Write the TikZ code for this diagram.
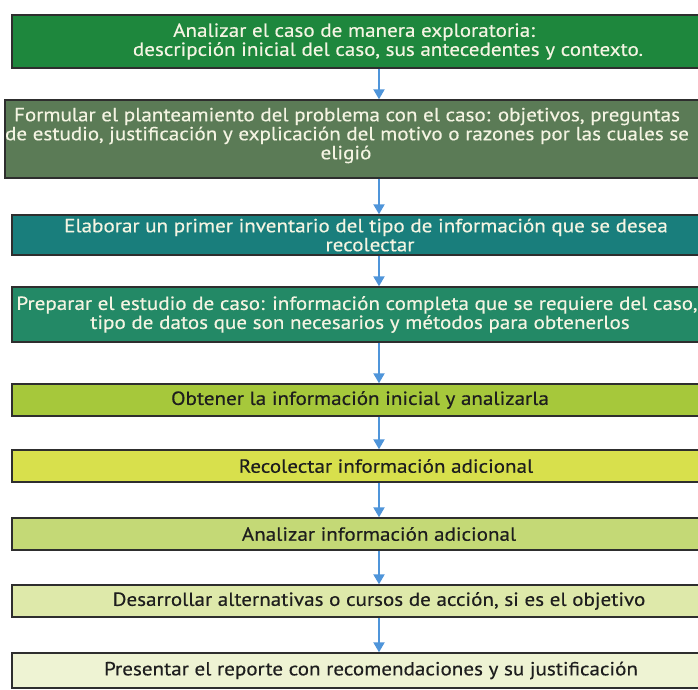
\documentclass[tikz,border=0pt]{standalone}
\usepackage{fontspec}
\setmainfont{PT Sans}[FakeStretch=1.11,FakeBold=0.4]
\usetikzlibrary{arrows.meta}

\definecolor{boxline}{HTML}{2E2E2E}
\definecolor{lighttext}{HTML}{F4F4E2}
\definecolor{darktext}{HTML}{1E1E1E}
\definecolor{arrowblue}{HTML}{4F95DA}
\definecolor{cA}{HTML}{1E873D}
\definecolor{cB}{HTML}{5B7B56}
\definecolor{cC}{HTML}{197E7C}
\definecolor{cD}{HTML}{238966}
\definecolor{cE}{HTML}{A6C83B}
\definecolor{cF}{HTML}{D8E04C}
\definecolor{cG}{HTML}{C4D976}
\definecolor{cH}{HTML}{DEE9AA}
\definecolor{cI}{HTML}{EEF3D3}

% trailing / leading padding to nudge a centred line left / right
\newcommand\padr[2]{\mbox{#2\kern#1}}
\newcommand\padl[2]{\mbox{\kern#1#2}}

\begin{document}
\begin{tikzpicture}[x=1pt,y=-1pt,
  stage/.style={draw=boxline, line width=1.4pt, minimum width=734pt,
    inner sep=0pt, align=center, font=\fontsize{19}{19}\selectfont},
  darkstage/.style={stage, text=lighttext},
  lightstage/.style={stage, text=darktext},
  flow/.style={draw=arrowblue, line width=2pt,
    -{Triangle[width=11pt,length=10pt]}}]

\useasboundingbox (0,0) rectangle (698,689);
\fill[white] (0,0) rectangle (698,689);

\node[darkstage, fill=cA, minimum height=53pt] (s1) at (379,41.5)
  {\padr{50pt}{Analizar el caso de manera exploratoria:}\\
   \padl{18pt}{descripción inicial del caso, sus antecedentes y contexto.}};
\node[darkstage, fill=cB, minimum height=78pt] (s2) at (379,139)
  {\padr{64pt}{Formular el planteamiento del problema con el caso: objetivos, preguntas}\\
   \padr{64pt}{de estudio, justificación y explicación del motivo o razones por las cuales se}\\
   \padr{66pt}{eligió}\rule[-11pt]{0pt}{1pt}};
\node[darkstage, fill=cC, minimum height=40pt] (s3) at (379,235)
  {\padr{26pt}{Elaborar un primer inventario del tipo de información que se desea}\\
   \padr{18pt}{recolectar}};
\node[darkstage, fill=cD, minimum height=55pt] (s4) at (379,314.5)
  {\padr{44pt}{\kern0pt Preparar el estudio de caso: información completa que se requiere del caso,}\\
   \padr{38pt}{tipo de datos que son necesarios y métodos para obtenerlos}};
\node[lightstage, fill=cE, minimum height=32pt] (s5) at (379,400)
  {\padr{38pt}{Obtener la información inicial y\ analizarla}};
\node[lightstage, fill=cF, minimum height=32pt] (s6) at (379,466)
  {\padl{14pt}{Recolectar información adicional}};
\node[lightstage, fill=cG, minimum height=32pt] (s7) at (379,534)
  {Analizar información adicional};
\node[lightstage, fill=cH, minimum height=32pt] (s8) at (379,601)
  {Desarrollar alternativas o cursos de acción, si es el objetivo};
\node[lightstage, fill=cI, minimum height=35pt] (s9) at (379,670.5)
  {\padr{16pt}{Presentar el reporte con recomendaciones y su justificación}};

\foreach \a/\b in {s1/s2,s2/s3,s3/s4,s4/s5,s5/s6,s6/s7,s7/s8,s8/s9}
  \draw[flow] (\a.south) -- (\b.north);
\end{tikzpicture}
\end{document}
